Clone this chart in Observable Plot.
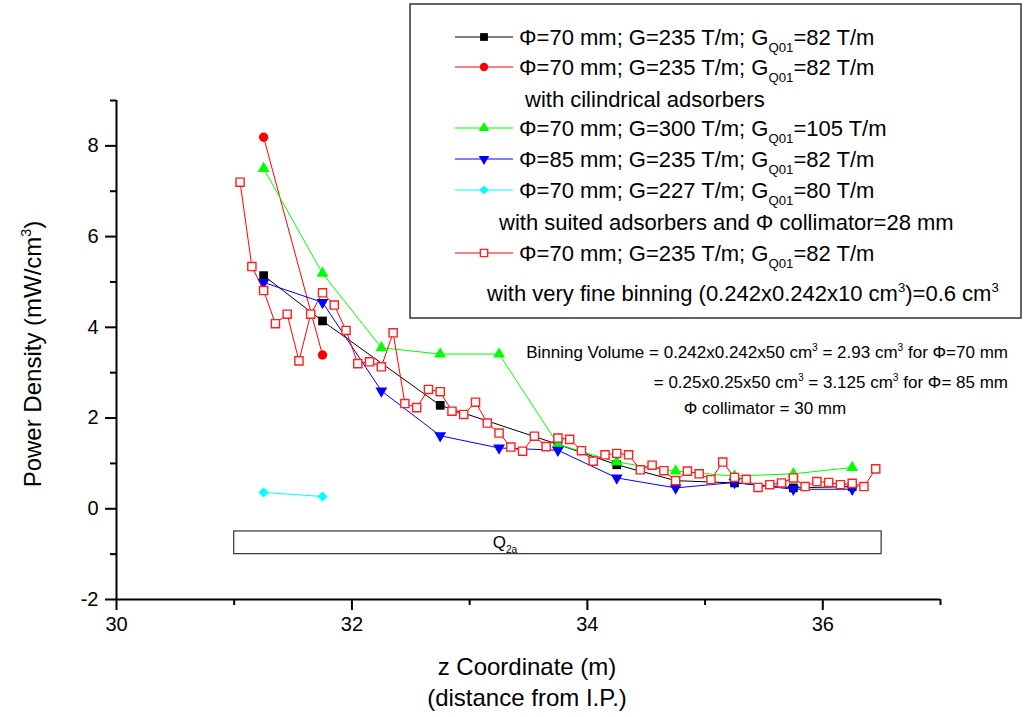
<!DOCTYPE html>
<html><head><meta charset="utf-8">
<script src="https://cdn.jsdelivr.net/npm/d3@7"></script>
<script src="https://cdn.jsdelivr.net/npm/@observablehq/plot@0.6"></script>
<style>
body{margin:0;background:#fff;}
#chart{width:1029px;height:717px;}
</style>
</head><body><div id="chart"></div>
<script>
// ---------- data ----------
const zBlack = [31.25,31.75,32.75,33.75,34.25,34.75,35.25,35.75,36.25];
const pBlack = [5.14,4.14,2.28,1.42,0.97,0.62,0.57,0.46,0.49];

const zRedCircle = [31.25,31.75];
const pRedCircle = [8.19,3.39];

const zGreen = [31.25,31.75,32.25,32.75,33.25,33.75,34.25,34.75,35.25,35.75,36.25];
const pGreen = [7.50,5.19,3.55,3.41,3.41,1.42,1.03,0.83,0.72,0.77,0.91];

const zBlue = [31.25,31.75,32.25,32.75,33.25,33.75,34.25,34.75,35.25,35.75,36.25];
const pBlue = [4.99,4.55,2.60,1.61,1.34,1.29,0.68,0.46,0.58,0.43,0.43];

const zCyan = [31.25,31.75];
const pCyan = [0.36,0.27];

const zFine = [31.05,31.15,31.25,31.35,31.45,31.55,31.65,31.75,31.85,31.95,
               32.05,32.15,32.25,32.35,32.45,32.55,32.65,32.75,32.85,32.95,
               33.05,33.15,33.25,33.35,33.45,33.55,33.65,33.75,33.85,33.95,
               34.05,34.15,34.25,34.35,34.45,34.55,34.65,34.75,34.85,34.95,
               35.05,35.15,35.25,35.35,35.45,35.55,35.65,35.75,35.85,35.95,
               36.05,36.15,36.25,36.35,36.45];
const pFine = [7.20,5.34,4.81,4.08,4.29,3.26,4.29,4.76,4.49,3.93,
               3.20,3.24,3.13,3.88,2.32,2.23,2.63,2.58,2.15,2.08,
               2.35,1.89,1.67,1.36,1.27,1.60,1.37,1.56,1.53,1.28,
               1.05,1.19,1.22,1.19,0.86,0.96,0.84,0.62,0.83,0.77,
               0.64,1.03,0.69,0.65,0.47,0.53,0.57,0.68,0.49,0.60,
               0.58,0.53,0.56,0.49,0.88];

const magnetName = ["Q2a"];
const magnetStart = [31.0];
const magnetEnd = [36.5];
const magnetLow = [-1.0];
const magnetHigh = [-0.5];

const xMajorTicks = [30,32,34,36];
const xMinorTicks = [31,33,35,37];
const yMajorTicks = [-2,0,2,4,6,8];
const yMinorTicks = [-1,1,3,5,7,9];

// ---------- styles ----------
const triDown = {draw(ctx, size){
  const s3 = Math.sqrt(3);
  const y = -Math.sqrt(size/(s3*3));
  ctx.moveTo(0, -2*y);
  ctx.lineTo(-s3*y, y);
  ctx.lineTo(s3*y, y);
  ctx.closePath();
}};

const series = [
  {z:zBlack, p:pBlack, stroke:"#000000", symbol:"square", fill:"#000000", mstroke:"none", r:4.9},
  {z:zRedCircle, p:pRedCircle, stroke:"#ff0000", symbol:"circle", fill:"#ff0000", mstroke:"none", r:4.7},
  {z:zGreen, p:pGreen, stroke:"#00ff00", symbol:"triangle", fill:"#00ff00", mstroke:"none", r:4.4},
  {z:zBlue, p:pBlue, stroke:"#0000ff", symbol:triDown, fill:"#0000ff", mstroke:"none", r:4.4},
  {z:zCyan, p:pCyan, stroke:"#00ffff", symbol:"diamond2", fill:"#00ffff", mstroke:"none", r:4.6},
  {z:zFine, p:pFine, stroke:"#ff0000", symbol:"square", fill:"#ffffff", mstroke:"#ff2020", r:4.6}
];

const FONT = "'Liberation Sans', Arial, Helvetica, sans-serif";

const marks = [];
// magnet box
const magnet = magnetName.map((n,i)=>({n, z1:magnetStart[i], z2:magnetEnd[i], y1:magnetLow[i], y2:magnetHigh[i]}));
marks.push(Plot.rect(magnet, {x1:"z1", x2:"z2", y1:"y1", y2:"y2", fill:"#fff", stroke:"#333", strokeWidth:1.2}));

for (const s of series) {
  const data = s.z.map((z,i)=>({z, p:s.p[i]}));
  marks.push(Plot.line(data, {x:"z", y:"p", stroke:s.stroke, strokeWidth:1}));
}
for (const s of series) {
  const data = s.z.map((z,i)=>({z, p:s.p[i]}));
  marks.push(Plot.dot(data, {x:"z", y:"p", symbol:()=>s.symbol, r:s.r, fill:s.fill,
    stroke:s.mstroke, strokeWidth:1.4}));
}

// axes
const plain = d => String(d);
marks.push(Plot.ruleX([30], {strokeWidth:2}));
marks.push(Plot.ruleY([-2], {strokeWidth:2}));
marks.push(Plot.axisX(xMajorTicks, {tickSize:11, tickPadding:6, strokeWidth:2, label:null, fontSize:20, tickFormat:plain}));
marks.push(Plot.axisX(xMinorTicks, {tickSize:6, strokeWidth:2, label:null, tickFormat:()=>""}));
marks.push(Plot.axisY(yMajorTicks, {tickSize:11, tickPadding:7, strokeWidth:2, label:null, fontSize:20, tickFormat:plain}));
marks.push(Plot.axisY(yMinorTicks, {tickSize:6, strokeWidth:2, label:null, tickFormat:()=>""}));

const plot = Plot.plot({
  width:1029, height:717,
  marginLeft:116, marginRight:89, marginTop:100, marginBottom:118,
  x:{domain:[30,37]},
  y:{domain:[-2,9]},
  style:{fontFamily:FONT, fontSize:"20px", color:"#000", background:"#fff", overflow:"visible"},
  marks
});
document.getElementById("chart").appendChild(plot);

// ---------- rich text overlay ----------
const svg = d3.select(plot);
const g = svg.append("g").attr("font-family", FONT).attr("fill", "#000");

function rich(parent, x, y, parts, size, anchor="start", transform=null) {
  const t = parent.append("text").attr("x", x).attr("y", y)
    .attr("font-size", size).attr("text-anchor", anchor);
  if (transform) t.attr("transform", transform);
  let shift = 0;
  for (const p of parts) {
    if (typeof p === "string") {
      const ts = t.append("tspan").text(p);
      if (shift) { ts.attr("dy", -shift); shift = 0; }
    } else if (p.sup !== undefined) {
      const d = -0.42*size - shift;
      t.append("tspan").attr("font-size", size*0.6).attr("dy", d).text(p.sup);
      shift = -0.42*size;
    } else if (p.sub !== undefined) {
      const d = 0.3*size - shift;
      t.append("tspan").attr("font-size", size*0.6).attr("dy", d).text(p.sub);
      shift = 0.3*size;
    }
  }
  return t;
}

// axis titles
rich(g, 527, 675, ["z Coordinate (m)"], 24, "middle");
rich(g, 527, 706, ["(distance from I.P.)"], 24, "middle");
rich(g, 0, 0, ["Power Density (mW/cm", {sup:"3"}, ")"], 24, "middle", "translate(41,354) rotate(-90)");

// magnet label
const xs = plot.scale("x"), ys = plot.scale("y");
rich(g, xs.apply(33.2), ys.apply(-0.75) + 6, ["Q", {sub:"2a"}], 17, "start");

// annotations
rich(g, 1008, 358, ["Binning Volume = 0.242x0.242x50 cm", {sup:"3"}, " = 2.93 cm", {sup:"3"}, " for \u03A6=70 mm"], 17, "end");
rich(g, 1008, 388, ["= 0.25x0.25x50 cm", {sup:"3"}, " = 3.125 cm", {sup:"3"}, " for \u03A6= 85 mm"], 17, "end");
rich(g, 765, 414, ["\u03A6 collimator = 30 mm"], 17, "middle");

// legend
const lg = svg.append("g").attr("font-family", FONT);
lg.append("rect").attr("x", 410).attr("y", 4).attr("width", 611).attr("height", 314)
  .attr("fill", "#fff").attr("stroke", "#333").attr("stroke-width", 1.5);
const legendRows = [
  {s:0, y:37, parts:["\u03A6=70 mm; G=235 T/m; G", {sub:"Q01"}, "=82 T/m"]},
  {s:1, y:67, parts:["\u03A6=70 mm; G=235 T/m; G", {sub:"Q01"}, "=82 T/m"]},
  {s:null, y:99, x:525, parts:["with cilindrical adsorbers"]},
  {s:2, y:128, parts:["\u03A6=70 mm; G=300 T/m; G", {sub:"Q01"}, "=105 T/m"]},
  {s:3, y:159, parts:["\u03A6=85 mm; G=235 T/m; G", {sub:"Q01"}, "=82 T/m"]},
  {s:4, y:190, parts:["\u03A6=70 mm; G=227 T/m; G", {sub:"Q01"}, "=80 T/m"]},
  {s:null, y:222, x:499, parts:["with suited adsorbers and \u03A6 collimator=28 mm"]},
  {s:5, y:253, parts:["\u03A6=70 mm; G=235 T/m; G", {sub:"Q01"}, "=82 T/m"]},
  {s:null, y:293, x:487, parts:["with very fine binning (0.242x0.242x10 cm", {sup:"3"}, ")=0.6 cm", {sup:"3"}]}
];
const symMap = {square:d3.symbolSquare, circle:d3.symbolCircle, triangle:d3.symbolTriangle, diamond2:d3.symbolDiamond2};
for (const row of legendRows) {
  if (row.s !== null) {
    const s = series[row.s];
    lg.append("line").attr("x1", 455).attr("x2", 513).attr("y1", row.y).attr("y2", row.y)
      .attr("stroke", s.stroke).attr("stroke-width", 1);
    const sym = typeof s.symbol === "string" ? symMap[s.symbol] : s.symbol;
    lg.append("path").attr("d", d3.symbol(sym, Math.PI*s.r*s.r*0.8)())
      .attr("transform", `translate(484,${row.y})`)
      .attr("fill", s.fill).attr("stroke", s.mstroke).attr("stroke-width", 1.4);
    rich(lg, 519, row.y + 8, row.parts, 22, "start");
  } else {
    rich(lg, row.x, row.y + 8, row.parts, 22, "start");
  }
}
</script>
</body></html>
